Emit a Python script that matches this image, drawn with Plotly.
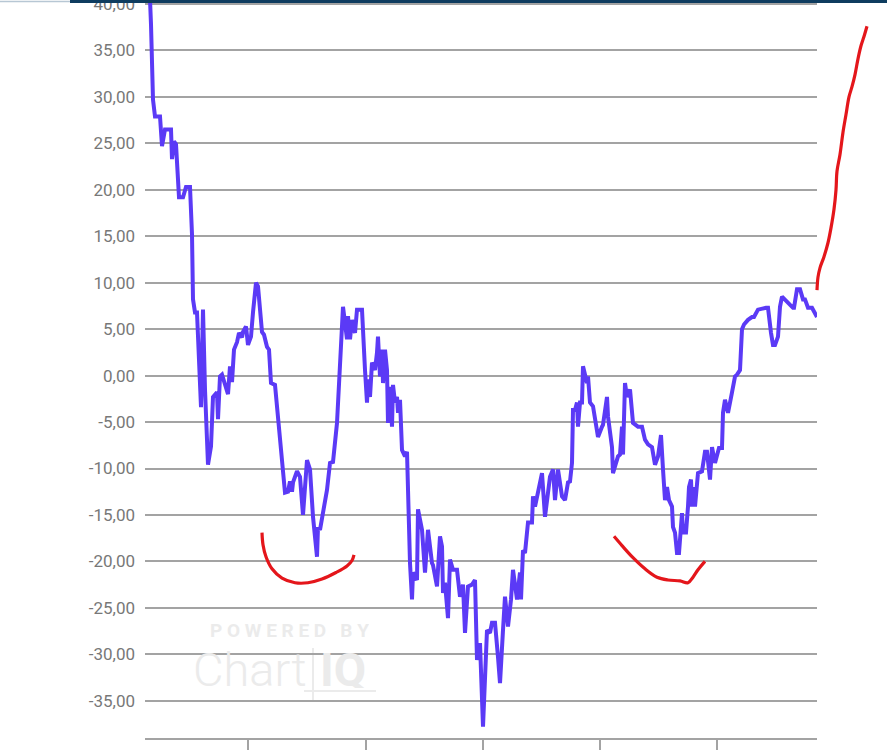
import plotly.graph_objects as go

# ---------------- data ----------------
session = [5, 5, 6, 8, 10, 15, 17, 20, 26, 27, 29, 31, 34, 38, 41, 45, 47, 48, 50, 52,
           55, 56, 58, 60, 63, 66, 68, 72, 73, 75, 77, 80, 83, 85, 87, 89, 92, 94, 97, 98,
           101, 103, 106, 108, 111, 113, 117, 119, 122, 124, 126, 130, 133, 137,
           140, 143, 145, 147, 148, 152, 155, 158, 162, 165, 168, 172, 173, 175, 178, 182,
           185, 188, 192, 195, 198, 202, 203, 205, 207, 208, 210, 212, 217, 220, 222, 223,
           225, 227, 230, 232, 233, 235, 237, 238, 240, 242, 243, 245, 247, 248, 250, 252,
           253, 255, 257, 260, 262, 265, 267, 268, 272, 273, 277, 280, 283, 287, 288, 292,
           295, 297, 298, 300, 303, 305, 308, 312, 315, 318, 320, 323, 327, 330, 332, 335,
           338, 342, 345, 347, 350, 353, 355, 358, 360, 363, 366, 368, 372, 373, 375, 376,
           378, 380, 383, 387, 388, 390, 393, 395, 397, 400, 403, 405, 408, 410, 413, 417,
           420, 423, 425, 427, 428, 430, 432, 433, 435, 437, 438, 442, 443, 445, 448, 452,
           453, 457, 458, 462, 463, 467, 468, 473, 475, 477, 478, 480, 482, 485, 488, 493,
           497, 500, 503, 507, 510, 513, 516, 518, 520, 522, 524, 527, 528, 530, 532, 534,
           537, 538, 541, 543, 544, 546, 547, 548, 550, 553, 557, 560, 562, 565, 567, 570,
           574, 577, 578, 580, 583, 587, 590, 592, 595, 597, 599, 603, 607, 609, 613, 621,
           623, 626, 628, 630, 632, 633, 635, 637, 648, 649, 652, 655, 658, 660, 663, 667,
           672]
change = [40.5, 38.4, 37.8, 29.7, 27.9, 27.9, 24.7, 26.5, 26.5, 23.3, 25.2, 24.9, 19.2, 19.2,
          20.3, 20.3, 15.2, 8.2, 6.8, 6.8, -3.1, -3.4, 7.1, -1.5, -9.6, -7.6, -2.3, -1.8,
          -4.7, -0.1, 0.1, -0.8, -2.0, 1.0, -0.7, 2.8, 3.6, 4.6, 4.1, 4.7, 5.3, 3.3, 4.2,
          6.8, 10.0, 9.6, 4.7, 4.4, 3.1, 2.8, -0.8, -1.0, -4.4, -8.7,
          -12.6, -12.5, -11.4, -12.5, -11.5, -10.3, -10.9, -15.0, -9.1, -10.1, -15.2, -19.5,
          -16.3, -16.6, -14.8, -12.3, -9.4, -9.3, -5.1, 1.4, 7.4, 3.9, 6.4, 3.9, 6.0, 5.3,
          4.6, 7.1, 7.1, 0.6, -2.9, -0.4, -2.3, 1.4, 0.6, 2.5, 4.2, -0.1, 2.8, -0.8, 2.8,
          0.6, -5.1, -1.2, -5.5, -1.0, -2.9, -2.3, -4.0, -2.6, -8.0, -8.7, -8.2, -20.2,
          -24.1, -21.2, -22.0, -14.4, -16.6, -21.2, -16.6, -20.2, -20.4, -22.7, -17.3, -18.4,
          -23.4, -22.3, -26.1, -19.8, -20.9, -20.9, -23.8, -22.5, -27.7, -22.7, -22.5, -22.0,
          -30.6, -28.8, -37.8, -27.4, -27.7, -26.6, -26.6, -30.3, -33.1, -27.4, -23.8, -27.0,
          -24.1, -20.9, -24.1, -23.1, -21.2, -24.1, -18.8, -19.1, -15.8, -15.8, -13.0, -14.1,
          -12.6, -11.5, -10.5, -15.2, -13.0, -10.9, -10.1, -13.4, -10.1, -13.0, -13.4, -11.5,
          -11.4, -9.4, -3.7, -3.7, -2.9, -5.5, -2.9, -2.9, 1.0, -0.8, -0.1, -2.9, -3.3, -6.1,
          -6.6, -5.5, -5.3, -2.3, -4.4, -7.7, -10.5, -8.7, -8.5, -5.5, -8.5, -0.8, -2.3, -1.5,
          -5.1, -5.5, -5.5, -6.9, -7.4, -7.7, -9.6, -8.7, -6.4, -10.1, -13.4, -12.0, -13.4,
          -14.1, -16.3, -16.9, -19.1, -19.1, -14.8, -16.9, -16.9, -14.1, -12.0, -11.2, -14.1,
          -12.0, -14.1, -10.5, -10.3, -8.2, -8.2, -11.2, -7.7, -9.4, -7.8, -7.8, -4.0, -2.6,
          -4.0, -1.8, -0.1, 0.1, 0.6, 5.0, 5.5, 6.0, 6.3, 6.3, 7.1, 7.3, 7.3, 4.6, 3.3, 3.3,
          4.1, 4.2, 7.4, 8.5, 7.3, 7.3, 9.3, 9.3, 8.2, 8.2, 7.3, 7.3, 6.3, 6.3]

# hand-drawn red marks (same session / value units)
mark1_x = [117, 118, 121, 127, 137, 150, 163, 177, 191, 202, 207, 209]
mark1_y = [-16.9, -18.2, -19.5, -20.8, -21.8, -22.3, -22.3, -21.9, -21.2, -20.5, -19.9, -19.3]
mark2_x = [469, 477, 488, 500, 512, 523, 535, 543, 548, 553, 560]
mark2_y = [-17.3, -18.3, -19.6, -20.8, -21.7, -22.0, -22.1, -22.3, -21.7, -20.9, -20.0]
mark3_x = [672, 673, 675, 679, 683, 686, 689, 691, 692, 695, 698, 701, 704, 707, 710, 713, 716, 719, 722]
mark3_y = [9.2, 10.6, 11.6, 12.8, 14.3, 15.9, 17.9, 20.0, 22.0, 23.8, 26.2, 28.1, 30.0, 31.1,
           32.4, 34.1, 35.5, 36.5, 37.6]

y_ticks = [40, 35, 30, 25, 20, 15, 10, 5, 0, -5, -10, -15, -20, -25, -30, -35]
y_tick_labels = ["40,00", "35,00", "30,00", "25,00", "20,00", "15,00", "10,00", "5,00",
                 "0,00", "-5,00", "-10,00", "-15,00", "-20,00", "-25,00", "-30,00", "-35,00"]
x_ticks = [103, 221, 338, 455, 572]

# ---------------- layout constants ----------------
W, H = 887, 752
ML, MR, MT, MB = 145, 0, 0, 14
PW = W - ML - MR
PH = H - MT - MB
X_MAX = 672
Y_RANGE = [-39.01, 40.43]
GRID = "#a3a3a3"


def px_x(p):
    return (p - ML) / PW


def px_y(p):
    return (MT + PH - p) / PH


fig = go.Figure()
fig.add_trace(go.Scatter(x=session, y=change, mode="lines",
                         line=dict(color="#5b3af6", width=4),
                         xaxis="x", yaxis="y", hoverinfo="skip"))
for mx, my in [(mark1_x, mark1_y), (mark2_x, mark2_y), (mark3_x, mark3_y)]:
    fig.add_trace(go.Scatter(x=mx, y=my, mode="lines",
                             line=dict(color="#e4161b", width=3.2, shape="spline"),
                             xaxis="x2", yaxis="y2", hoverinfo="skip"))

fig.update_layout(
    width=W, height=H,
    margin=dict(l=ML, r=MR, t=MT, b=MB, pad=0, autoexpand=False),
    paper_bgcolor="white", plot_bgcolor="rgba(0,0,0,0)",
    showlegend=False, hovermode=False,
    font=dict(family="Roboto, sans-serif", color="#787878"),
    xaxis=dict(domain=[0, X_MAX / PW], range=[0, X_MAX], showgrid=False, zeroline=False,
               showline=True, linecolor=GRID, linewidth=2, automargin=False,
               ticks="outside", ticklen=10, tickwidth=2, tickcolor=GRID,
               tickvals=x_ticks, showticklabels=False, fixedrange=True),
    yaxis=dict(range=Y_RANGE, tickvals=y_ticks, ticktext=y_tick_labels, automargin=False,
               showgrid=True, gridcolor=GRID, gridwidth=2, zeroline=False,
               showline=False, ticks="", ticklabelstandoff=9, ticklabeloverflow="allow",
               tickfont=dict(size=17, color="#787878"), fixedrange=True),
    xaxis2=dict(domain=[0, 1], range=[0, PW], visible=False, anchor="y2", fixedrange=True),
    yaxis2=dict(domain=[0, 1], range=Y_RANGE, visible=False, anchor="x2", fixedrange=True),
)

# top application bar (cropped screenshot edge)
fig.add_shape(type="line", xref="paper", yref="paper",
              x0=px_x(0), x1=px_x(72), y0=px_y(1.5), y1=px_y(1.5),
              line=dict(color="#b7c7d4", width=1.5), layer="above")
fig.add_shape(type="rect", xref="paper", yref="paper",
              x0=px_x(70), x1=px_x(887), y0=px_y(3), y1=px_y(-5),
              fillcolor="#0e3c5f", line=dict(width=0), layer="above")

# watermark
WM = "#ebebeb"
fig.add_annotation(xref="paper", yref="paper", x=px_x(289), y=px_y(630),
                   text="<b>P O W E R E D   B Y</b>", showarrow=False,
                   font=dict(size=19, color=WM, family="Roboto"), height=22,
                   xanchor="center", yanchor="middle")
fig.add_annotation(xref="paper", yref="paper", x=px_x(309), y=px_y(669),
                   text="Chart", showarrow=False, height=38,
                   font=dict(size=47, color=WM, family="Roboto", weight=300),
                   xanchor="right", yanchor="middle")
fig.add_annotation(xref="paper", yref="paper", x=px_x(318), y=px_y(669),
                   text="<b>IQ</b>", showarrow=False, height=38,
                   font=dict(size=47, color=WM, family="Roboto"),
                   xanchor="left", yanchor="middle")
fig.add_shape(type="line", xref="paper", yref="paper",
              x0=px_x(313), x1=px_x(313), y0=px_y(648), y1=px_y(700),
              line=dict(color=WM, width=2), layer="below")
fig.add_shape(type="line", xref="paper", yref="paper",
              x0=px_x(304), x1=px_x(376), y0=px_y(691), y1=px_y(691),
              line=dict(color=WM, width=2), layer="below")

fig.write_html("out.html", config={"displayModeBar": False},
               post_script="document.body.style.margin='0';document.body.style.overflow='hidden';")
